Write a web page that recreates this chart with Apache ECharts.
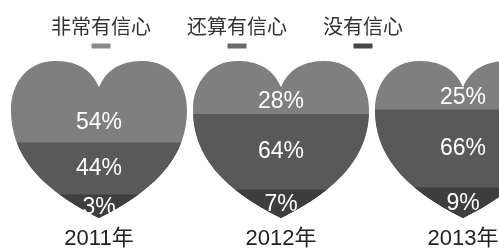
<!DOCTYPE html>
<html>
<head>
<meta charset="utf-8">
<script src="https://cdn.jsdelivr.net/npm/echarts@6/dist/echarts.min.js"></script>
<style>
  html, body { margin: 0; padding: 0; background: #fff; }
  #main { width: 499px; height: 251px; }
</style>
</head>
<body>
<div id="main"></div>
<script>
const years = ['2011年', '2012年', '2013年']
const levels = ['非常有信心', '还算有信心', '没有信心']
const veryConfident = [54, 28, 25]
const fairlyConfident = [44, 64, 66]
const notConfident = [3, 7, 9]

const bandColors = ['#7f7f7f', '#595959', '#3e3e3e']
const legendColors = ['#8a8a8a', '#6a6a6a', '#474747']

// heart outline, bbox 0..100 x 0..90
const heartPath = 'M50,15 C45,3 35,0 25,0 C10,0 0,12 0,28 C0,52 14,72 50,90 C86,72 100,52 100,28 C100,12 90,0 75,0 C65,0 55,3 50,15 Z'

// the heart runs from the tip (share -17) to the top of the lobes (share 116)
const tipShare = -17
const topShare = 116
const span = topShare - tipShare

const lowTop = notConfident.map(v => v - tipShare)
const midTop = notConfident.map((v, i) => v + fairlyConfident[i] - tipShare)
const fullHeart = years.map(() => span)

const labelPoints = []
years.forEach((y, i) => {
  labelPoints.push([i, midTop[i] + (span - midTop[i]) * 0.24, veryConfident[i] + '%'])
  labelPoints.push([i, (lowTop[i] + midTop[i]) / 2, fairlyConfident[i] + '%'])
  labelPoints.push([i, lowTop[i] / 2 - 1, notConfident[i] + '%'])
})

const chart = echarts.init(document.getElementById('main'))

function heartSeries(name, data, color, z) {
  return {
    name,
    type: 'pictorialBar',
    symbol: 'path://' + heartPath,
    symbolSize: ['100%', '100%'],
    symbolClip: true,
    symbolBoundingData: span,
    barWidth: 176,
    barGap: '-100%',
    z,
    itemStyle: { color },
    emphasis: { disabled: true },
    data,
  }
}

const rich = {
  t: { fontSize: 20, fontFamily: 'Noto Sans CJK SC', color: '#333', lineHeight: 30 },
}
legendColors.forEach((c, i) => {
  rich['c' + i] = { width: 19, height: 5, lineHeight: 10, backgroundColor: c, align: 'center' }
})

chart.setOption({
  animation: false,
  legend: {
    data: levels,
    top: 16,
    left: 46,
    padding: 0,
    itemGap: 31,
    icon: 'none',
    itemWidth: 0,
    itemHeight: 10,
    selectedMode: false,
    formatter: name => `{t|${name}}\n{c${levels.indexOf(name)}|}`,
    textStyle: { rich },
  },
  grid: { left: 8, width: 546, top: 61, bottom: 33, outerBoundsMode: 'none', containLabel: false },
  xAxis: {
    type: 'category',
    data: years,
    axisLine: { show: false },
    axisTick: { show: false },
    axisLabel: {
      margin: 10,
      fontSize: 22,
      color: '#222',
      fontFamily: 'Liberation Sans, Noto Sans CJK SC',
    },
  },
  yAxis: { type: 'value', min: 0, max: span, show: false },
  series: [
    heartSeries(levels[0], fullHeart, bandColors[0], 2),
    heartSeries(levels[1], midTop, bandColors[1], 3),
    heartSeries(levels[2], lowTop, bandColors[2], 4),
    {
      type: 'custom',
      silent: true,
      z: 10,
      data: labelPoints,
      renderItem(params, api) {
        const pt = api.coord([api.value(0), api.value(1)])
        return {
          type: 'text',
          x: pt[0],
          y: pt[1],
          style: {
            text: labelPoints[params.dataIndex][2],
            fill: '#fff',
            font: '23px "Liberation Sans"',
            align: 'center',
            verticalAlign: 'middle',
          },
        }
      },
    },
  ],
})
</script>
</body>
</html>
